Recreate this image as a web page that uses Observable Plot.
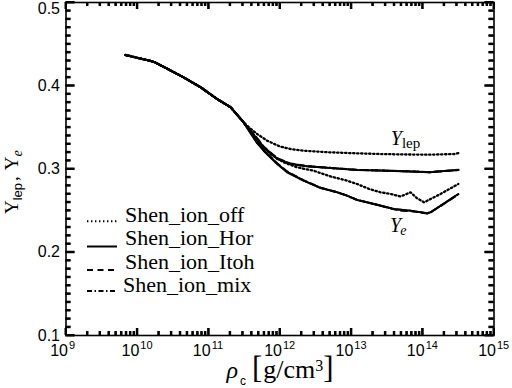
<!DOCTYPE html>
<html><head><meta charset="utf-8">
<script src="https://cdn.jsdelivr.net/npm/d3@7"></script>
<script src="https://cdn.jsdelivr.net/npm/@observablehq/plot@0.6"></script>
<style>html,body{margin:0;padding:0;background:#fff}svg{display:block}</style>
</head><body><div id="chart"></div>
<script>
// ---- data (log10 of central density, lepton / electron fraction) ----
const models = ["Shen_ion_off", "Shen_ion_Hor", "Shen_ion_Itoh", "Shen_ion_mix"];
const commonLogRho = [9.834, 10.0, 10.2, 10.25, 10.45, 10.65, 10.89, 11.12, 11.31, 11.49];
const commonY      = [0.437, 0.4335, 0.4295, 0.428, 0.419, 0.410, 0.398, 0.384, 0.374, 0.356];

const offLepLogRho = [11.58, 11.68, 11.82, 12.0, 12.15, 12.33, 12.7, 13.08, 13.4, 13.7, 14.1, 14.45, 14.5];
const offLepY      = [0.349, 0.342, 0.334, 0.327, 0.324, 0.322, 0.320, 0.3188, 0.318, 0.3175, 0.3172, 0.318, 0.319];
const offYeLogRho  = [11.58, 11.68, 11.87, 12.05, 12.24, 12.47, 12.71, 12.94, 13.08, 13.25, 13.41, 13.55, 13.69, 13.83, 13.92, 14.02, 14.25, 14.5];
const offYeY       = [0.345, 0.333, 0.318, 0.308, 0.302, 0.298, 0.291, 0.286, 0.282, 0.276, 0.272, 0.270, 0.267, 0.272, 0.265, 0.260, 0.270, 0.282];

const horLepLogRho = [11.58, 11.68, 11.77, 11.96, 12.15, 12.38, 12.75, 13.08, 13.5, 13.9, 14.1, 14.3, 14.5];
const horLepY      = [0.346, 0.336, 0.326, 0.312, 0.306, 0.3032, 0.301, 0.2988, 0.298, 0.2968, 0.296, 0.2975, 0.2988];
const horYeLogRho  = [11.58, 11.68, 11.77, 11.96, 12.1, 12.33, 12.57, 12.8, 12.94, 13.08, 13.32, 13.6, 13.83, 14.06, 14.11, 14.5];
const horYeY       = [0.344, 0.331, 0.322, 0.306, 0.296, 0.286, 0.2772, 0.272, 0.268, 0.2628, 0.258, 0.252, 0.250, 0.2468, 0.248, 0.270];

const itohLepLogRho = [11.58, 11.68, 11.77, 11.96, 12.15, 12.38, 12.75, 13.08, 13.5, 13.9, 14.1, 14.3, 14.5];
const itohLepY      = [0.347, 0.337, 0.327, 0.313, 0.3065, 0.3035, 0.301, 0.299, 0.298, 0.297, 0.2962, 0.2975, 0.299];
const itohYeLogRho  = [11.58, 11.68, 11.77, 11.96, 12.1, 12.33, 12.57, 12.8, 12.94, 13.08, 13.32, 13.6, 13.7, 13.83, 14.06, 14.11, 14.5];
const itohYeY       = [0.345, 0.332, 0.323, 0.307, 0.297, 0.2865, 0.2775, 0.2722, 0.268, 0.263, 0.2578, 0.2515, 0.2498, 0.2495, 0.2465, 0.2478, 0.2695];

const mixLepLogRho = [11.58, 11.68, 11.77, 11.96, 12.15, 12.38, 12.75, 13.08, 13.5, 13.9, 14.1, 14.3, 14.5];
const mixLepY      = [0.3465, 0.3365, 0.3265, 0.3125, 0.306, 0.3033, 0.301, 0.2989, 0.298, 0.2969, 0.2961, 0.2975, 0.2989];
const mixYeLogRho  = [11.58, 11.68, 11.77, 11.96, 12.1, 12.33, 12.57, 12.8, 12.94, 13.08, 13.32, 13.6, 13.83, 14.06, 14.11, 14.5];
const mixYeY       = [0.3445, 0.3315, 0.3225, 0.3065, 0.2965, 0.2862, 0.2773, 0.2721, 0.268, 0.2629, 0.2579, 0.2518, 0.2499, 0.2467, 0.2479, 0.2698];

const seriesLog = {
  Shen_ion_off:  [[offLepLogRho, offLepY], [offYeLogRho, offYeY]],
  Shen_ion_Hor:  [[horLepLogRho, horLepY], [horYeLogRho, horYeY]],
  Shen_ion_Itoh: [[itohLepLogRho, itohLepY], [itohYeLogRho, itohYeY]],
  Shen_ion_mix:  [[mixLepLogRho, mixLepY], [mixYeLogRho, mixYeY]]
};
const quantities = ["Ylep", "Ye"];

// tick labels
const xTickExponents = [9, 10, 11, 12, 13, 14, 15];
const yTicks = [0.1, 0.2, 0.3, 0.4, 0.5];
const yTickLabels = ["0.1", "0.2", "0.3", "0.4", "0.5"];

// curve-label anchors (log10 rho, Y)
const labelLep = [13.56, 0.328];
const labelYe = [13.55, 0.2236];

// ---- build rows ----
const rows = [];
for (const m of models) {
  seriesLog[m].forEach(([lx, ly], qi) => {
    const xs = commonLogRho.concat(lx), ys = commonY.concat(ly);
    xs.forEach((v, i) => rows.push({model: m, q: quantities[qi], rho: 10 ** v, Y: ys[i]}));
  });
}

const dashStyle = {
  Shen_ion_off: "1.4,2.6",
  Shen_ion_Hor: null,
  Shen_ion_Itoh: "6,4.5",
  Shen_ion_mix: "5,2.5,1.5,2.5"
};

const W = 512, H = 388;
const mL = 65.5, mR = 18.5, mT = 2, mB = 53;
const PW = W - mL - mR, PH = H - mT - mB;

const xMinor = [];
for (let e = 9; e < 15; e++) for (let k = 2; k <= 9; k++) xMinor.push(k * 10 ** e);
const xMajor = xTickExponents.map(e => 10 ** e);
const yMinor = d3.range(11, 50).filter(i => i % 10 !== 0).map(i => i / 100);

const serif = "'Liberation Serif', 'Times New Roman', Times, serif";
const sans = "'Liberation Sans', Arial, Helvetica, sans-serif";

function rich(g, parts, attrs) {
  const t = g.append("text").attr("text-anchor", "start");
  for (const [k, v] of Object.entries(attrs)) t.attr(k, v);
  for (const p of parts) {
    const s = t.append("tspan").text(p.t);
    for (const [k, v] of Object.entries(p)) {
      if (k === "t") continue;
      if (k === "font-family" || k === "font-size" || k === "font-style") s.style(k, k === "font-size" ? v + "px" : v);
      else s.attr(k, v);
    }
  }
  return t;
}

const lineMarks = models.map(m => Plot.line(rows.filter(r => r.model === m), {
  x: "rho", y: "Y", z: "q", stroke: "black", strokeWidth: m === "Shen_ion_off" ? 2.3 : 2,
  strokeDasharray: dashStyle[m] || undefined
}));

const tk = {stroke: "black", strokeWidth: 2};
const tickMarks = [
  Plot.tickX(xMajor, {x: d => d, insetTop: PH - 7, ...tk}),
  Plot.tickX(xMajor, {x: d => d, insetBottom: PH - 7, ...tk}),
  Plot.tickX(xMinor, {x: d => d, insetTop: PH - 4, ...tk}),
  Plot.tickX(xMinor, {x: d => d, insetBottom: PH - 4, ...tk}),
  Plot.tickY(yTicks, {y: d => d, insetRight: PW - 9, ...tk}),
  Plot.tickY(yTicks, {y: d => d, insetLeft: PW - 9, ...tk}),
  Plot.tickY(yMinor, {y: d => d, insetRight: PW - 5, ...tk}),
  Plot.tickY(yMinor, {y: d => d, insetLeft: PW - 5, ...tk})
];

// same inward ticks again as a render function (through the scales)
const tickFn = (index, scales) => {
  const g = d3.create("svg:g");
  const x0 = mL, x1 = W - mR, y0 = mT, y1 = H - mB;
  const seg = (ax, ay, bx, by) => g.append("line")
    .attr("x1", ax).attr("y1", ay).attr("x2", bx).attr("y2", by)
    .attr("stroke", "#000").attr("stroke-width", 2)
    .style("stroke", "#000").style("stroke-width", "2px");
  xMajor.forEach(v => { const p = scales.x(v); seg(p, y1, p, y1 - 7); seg(p, y0, p, y0 + 7); });
  xMinor.forEach(v => { const p = scales.x(v); seg(p, y1, p, y1 - 4); seg(p, y0, p, y0 + 4); });
  yTicks.forEach(v => { const p = scales.y(v); seg(x0, p, x0 + 9, p); seg(x1, p, x1 - 9, p); });
  yMinor.forEach(v => { const p = scales.y(v); seg(x0, p, x0 + 5, p); seg(x1, p, x1 - 5, p); });
  return g.node();
};

const annotations = (index, scales) => {
  const g = d3.create("svg:g").attr("fill", "black");
  // x axis label
  const cx = mL + PW / 2 - 53;
  rich(g, [
    {t: "ρ", "font-style": "italic", "font-size": 24, "font-family": serif},
    {t: "c", "font-size": 12, "font-family": sans, dx: 2, dy: 7},
    {t: "[", "font-size": 31, "font-family": serif, dx: 6, dy: -7},
    {t: "g/cm", "font-size": 26, "font-family": serif, dx: 1},
    {t: "3", "font-size": 16, "font-family": serif, dy: -7},
    {t: "]", "font-size": 31, "font-family": serif, dy: 7}
  ], {x: cx, y: 378});
  // y axis label
  rich(g, [
    {t: "Y", "font-size": 19, "font-family": serif},
    {t: "lep", "font-size": 13, "font-family": sans, dy: 4},
    {t: ",", "font-size": 19, "font-family": serif, dx: 2, dy: -4},
    {t: "Y", "font-size": 19, "font-family": serif, dx: 6},
    {t: "e", "font-size": 14, "font-family": serif, "font-style": "italic", dy: 4}
  ], {transform: "translate(17.5,214) rotate(-90)", x: 0, y: 0});
  // curve labels
  rich(g, [
    {t: "Y", "font-size": 20, "font-family": serif, "font-style": "italic"},
    {t: "lep", "font-size": 15, "font-family": serif, dy: 3}
  ], {x: scales.x(10 ** labelLep[0]), y: scales.y(labelLep[1])});
  rich(g, [
    {t: "Y", "font-size": 20, "font-family": serif, "font-style": "italic"},
    {t: "e", "font-size": 14, "font-family": serif, "font-style": "italic", dy: 3, dx: -1}
  ], {x: scales.x(10 ** labelYe[0]), y: scales.y(labelYe[1])});
  // legend
  const baselines = [221.7, 245, 268.5, 292];
  const lineOff = [-0.5, 1.5, 1.5, -1];
  models.forEach((m, i) => {
    const yb = baselines[i];
    g.append("line").attr("x1", mL + 21.5).attr("x2", mL + 51.5)
      .attr("y1", yb + lineOff[i]).attr("y2", yb + lineOff[i])
      .style("stroke", "black").style("stroke-width", "2px")
      .attr("stroke-dasharray", dashStyle[m] || null);
    g.append("text").attr("text-anchor", "start")
      .attr("x", mL + (i === 3 ? 57.5 : 59.5)).attr("y", yb)
      .style("font-family", serif).style("font-size", "22px").text(m);
  });
  return g.node();
};

const chart = Plot.plot({
  width: W, height: H,
  marginLeft: mL, marginRight: mR, marginTop: mT, marginBottom: mB,
  style: {fontFamily: sans, background: "white", color: "black"},
  x: {type: "log", domain: [1e9, 1e15], axis: null},
  y: {domain: [0.1, 0.5], axis: null},
  marks: [
    ...lineMarks,
    Plot.frame({stroke: "black", strokeWidth: 1.6}),
    ...tickMarks,
    tickFn,
    // x tick labels: "10" + exponent
    Plot.text(xTickExponents, {x: e => 10 ** e, text: () => "10", frameAnchor: "bottom",
      textAnchor: "end", dx: 2, dy: 20, fontSize: 16, fontFamily: sans}),
    Plot.text(xTickExponents, {x: e => 10 ** e, text: e => String(e), frameAnchor: "bottom",
      textAnchor: "start", dx: 3, dy: 13, fontSize: 11, fontFamily: sans}),
    // y tick labels
    Plot.text(yTicks.slice(0, 4), {y: d => d, text: (d, i) => yTickLabels[i], frameAnchor: "left",
      textAnchor: "end", dx: -6, fontSize: 16, fontFamily: sans}),
    Plot.text(yTicks.slice(4), {y: d => d, text: () => yTickLabels[4], frameAnchor: "left",
      textAnchor: "end", lineAnchor: "top", dx: -6, dy: 0, fontSize: 16, fontFamily: sans}),
    annotations
  ]
});
document.getElementById("chart").appendChild(chart);
</script>
</body></html>
